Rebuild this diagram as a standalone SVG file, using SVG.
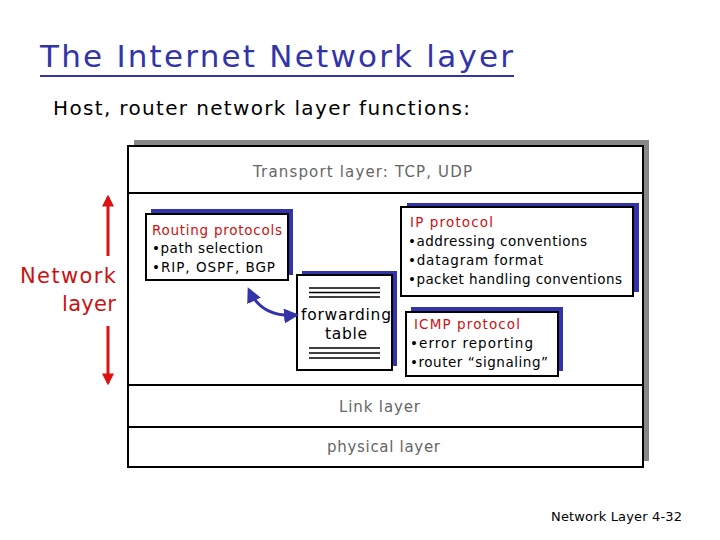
<svg xmlns="http://www.w3.org/2000/svg" width="720" height="540" viewBox="0 0 720 540">
<defs>
<style>
text{font-family:"DejaVu Sans","Liberation Sans",sans-serif}
.box{fill:#fff;stroke:#000;stroke-width:2}
.sh{fill:#3333aa}
.red{fill:#cc1111}
.blk{fill:#000}
.gray{fill:#666}
.ln{stroke:#000;stroke-width:2}
</style>
<marker id="ab" viewBox="0 0 10 10" refX="8" refY="5" markerWidth="5" markerHeight="5" orient="auto-start-reverse"><path d="M0,0 L10,5 L0,10 z" fill="#3333aa"/></marker>
<marker id="ar" viewBox="0 0 10 10" refX="8" refY="5" markerWidth="4" markerHeight="5" orient="auto-start-reverse"><path d="M0,0 L10,5 L0,10 z" fill="#dd1111"/></marker>
</defs>
<rect width="720" height="540" fill="#fff"/>
<g id="title">
<text x="40" y="67" font-size="31" fill="#3333aa" textLength="473">The Internet Network layer</text>
<line x1="40" y1="76" x2="514" y2="76" stroke="#3333aa" stroke-width="2"/>
<text x="53" y="115" font-size="20" class="blk" textLength="417">Host, router network layer functions:</text>
</g>
<g id="stack">
<rect x="134" y="140" width="515" height="321" fill="#888"/>
<rect x="128" y="146" width="515" height="321" class="box" stroke-width="3"/>
<line x1="128" y1="193" x2="643" y2="193" class="ln"/>
<line x1="128" y1="385" x2="643" y2="385" class="ln"/>
<line x1="128" y1="427" x2="643" y2="427" class="ln"/>
<text x="253" y="177" font-size="15" class="gray" textLength="219">Transport layer: TCP, UDP</text>
<text x="339" y="412" font-size="15" class="gray" textLength="81">Link layer</text>
<text x="327" y="452" font-size="15" class="gray" textLength="113">physical layer</text>
</g>
<g id="routing">
<rect x="151" y="209" width="142" height="66" class="sh"/>
<rect x="146" y="214" width="142" height="66" class="box"/>
<text x="152" y="235" font-size="13.5" class="red" textLength="130">Routing protocols</text>
<text x="152" y="253" font-size="13.5" class="blk" textLength="111">•path selection</text>
<text x="152" y="272" font-size="13.5" class="blk" textLength="123">•RIP, OSPF, BGP</text>
</g>
<g id="forwarding">
<rect x="302" y="271" width="95" height="95" class="sh"/>
<rect x="297" y="275" width="95" height="95" class="box"/>
<path d="M309,288H380M309,292.5H380M309,297H380M309,348H380M309,353H380M309,358H380" stroke="#000" stroke-width="1.5"/>
<text x="301" y="320" font-size="15.5" class="blk" textLength="90">forwarding</text>
<text x="325" y="339" font-size="15.5" class="blk" textLength="42">table</text>
</g>
<g id="ip">
<rect x="407" y="203" width="232" height="89" class="sh"/>
<rect x="401" y="207" width="232" height="89" class="box"/>
<text x="410" y="227" font-size="13.5" class="red" textLength="83">IP protocol</text>
<text x="408" y="246" font-size="13.5" class="blk" textLength="179">•addressing conventions</text>
<text x="408" y="265" font-size="13.5" class="blk" textLength="135">•datagram format</text>
<text x="408" y="284" font-size="13.5" class="blk" textLength="214">•packet handling conventions</text>
</g>
<g id="icmp">
<rect x="411" y="307" width="152" height="64" class="sh"/>
<rect x="406" y="312" width="152" height="64" class="box"/>
<text x="414" y="329" font-size="13.5" class="red" textLength="106">ICMP protocol</text>
<text x="410" y="348" font-size="13.5" class="blk" textLength="123">•error reporting</text>
<text x="410" y="367" font-size="13.5" class="blk" textLength="138">•router “signaling”</text>
</g>
<g id="network-layer">
<text x="116" y="283" font-size="21" fill="#cc1111" text-anchor="end" textLength="96">Network</text>
<text x="116" y="311" font-size="21" fill="#cc1111" text-anchor="end" textLength="54">layer</text>
</g>
<g id="connectors">
<path d="M108,256 V197" stroke="#dd1111" stroke-width="3" marker-end="url(#ar)"/>
<path d="M108,326 V383" stroke="#dd1111" stroke-width="3" marker-end="url(#ar)"/>
<path d="M249,290 Q262,318 296,315" fill="none" stroke="#3333aa" stroke-width="3" marker-start="url(#ab)" marker-end="url(#ab)"/>
</g>
<g id="footer">
<text x="551" y="521" font-size="13" class="blk" textLength="131">Network Layer  4-32</text>
</g>
</svg>
